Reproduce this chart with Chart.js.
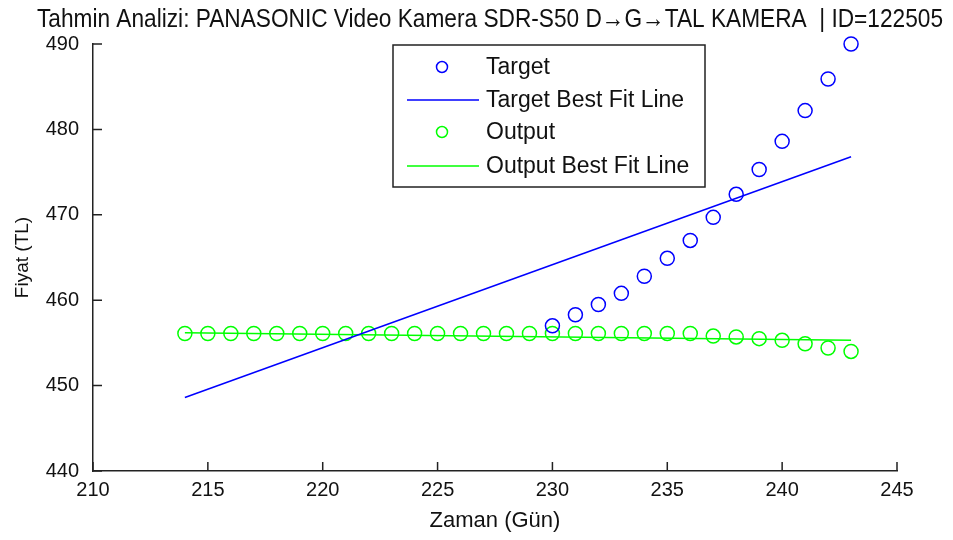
<!DOCTYPE html>
<html>
<head>
<meta charset="utf-8">
<script src="https://cdn.jsdelivr.net/npm/chart.js@4.4.1/dist/chart.umd.min.js"></script>
<style>
    html, body { margin: 0; padding: 0; background: #fff; }
</style>
</head>
<body>
<canvas id="tahminGrafik" width="953" height="540"></canvas>
<script>
// Gercek degerler (Target)
const targetDays = [230, 231, 232, 233, 234, 235, 236, 237, 238, 239, 240, 241, 242, 243];
const targetPrices = [457.0, 458.3, 459.5, 460.8, 462.8, 464.9, 467.0, 469.7, 472.4, 475.3, 478.6, 482.2, 485.9, 490.0];

// Model ciktisi (Output)
const outputDays = [214, 215, 216, 217, 218, 219, 220, 221, 222, 223, 224, 225, 226, 227, 228, 229,
    230, 231, 232, 233, 234, 235, 236, 237, 238, 239, 240, 241, 242, 243];
const outputPrices = [456.1, 456.1, 456.1, 456.1, 456.1, 456.1, 456.1, 456.1, 456.1, 456.1, 456.1, 456.1, 456.1, 456.1, 456.1, 456.1,
    456.1, 456.1, 456.1, 456.1, 456.1, 456.1, 456.1, 455.8, 455.7, 455.5, 455.3, 454.9, 454.4, 454.0];

// Egilim cizgileri (uc noktalar)
const fitDays = [214, 243];
const targetFit = [448.6, 476.8];
const outputFit = [456.2, 455.3];

// Eksen tikleri
const xTicks = [210, 215, 220, 225, 230, 235, 240, 245];
const yTicks = [440, 450, 460, 470, 480, 490];

const baslik = 'Tahmin Analizi: PANASONIC Video Kamera SDR-S50 D\u2192G\u2192TAL KAMERA  | ID=122505';

const FONT = "'Liberation Sans', Arial, sans-serif";
const NARROW = "'Liberation Sans Narrow', 'Arial Narrow', sans-serif";
const BLUE = '#0000ff';
const GREEN = '#00ff00';

const toPoints = (xs, ys) => xs.map((x, i) => ({ x: x, y: ys[i] }));

// Baslik (MATLAB gibi dar yazi, sag kenara hizali)
const baslikYaz = {
    id: 'baslikYaz',
    afterDraw(chart) {
        const { ctx } = chart;
        ctx.save();
        ctx.fillStyle = '#111';
        ctx.font = '26px ' + FONT;
        ctx.textAlign = 'right';
        ctx.textBaseline = 'alphabetic';
        ctx.fillText(baslik, 943, 27, 906);
        ctx.restore();
    }
};

// Ice dogru tik cizgileri
const icTikler = {
    id: 'icTikler',
    afterDraw(chart) {
        const { ctx, chartArea, scales } = chart;
        ctx.save();
        ctx.strokeStyle = '#222';
        ctx.lineWidth = 1.5;
        ctx.beginPath();
        xTicks.forEach(v => {
            const px = scales.x.getPixelForValue(v);
            ctx.moveTo(px, chartArea.bottom);
            ctx.lineTo(px, chartArea.bottom - 9);
        });
        yTicks.forEach(v => {
            const py = scales.y.getPixelForValue(v);
            ctx.moveTo(chartArea.left, py);
            ctx.lineTo(chartArea.left + 9, py);
        });
        ctx.stroke();
        ctx.restore();
    }
};

// MATLAB tarzi lejant kutusu
const lejant = {
    id: 'lejant',
    afterDraw(chart) {
        const { ctx } = chart;
        const box = { left: 393, top: 45, right: 705, bottom: 187 };
        const rows = [67, 100, 132, 166];
        ctx.save();
        ctx.fillStyle = '#fff';
        ctx.fillRect(box.left, box.top, box.right - box.left, box.bottom - box.top);
        ctx.strokeStyle = '#222';
        ctx.lineWidth = 1.5;
        ctx.strokeRect(box.left, box.top, box.right - box.left, box.bottom - box.top);

        chart.data.datasets.forEach((ds, i) => {
            const y = rows[i];
            ctx.strokeStyle = ds.borderColor;
            ctx.lineWidth = 1.5;
            if (ds.showLine) {
                ctx.beginPath();
                ctx.moveTo(407, y);
                ctx.lineTo(479, y);
                ctx.stroke();
            } else {
                ctx.beginPath();
                ctx.arc(442, y, 5.5, 0, Math.PI * 2);
                ctx.stroke();
            }
            ctx.fillStyle = '#111';
            ctx.font = '23px ' + FONT;
            ctx.textBaseline = 'middle';
            ctx.textAlign = 'left';
            ctx.fillText(ds.label, 486, y + 1);
        });
        ctx.restore();
    }
};

const ctx = document.getElementById('tahminGrafik').getContext('2d');

new Chart(ctx, {
    type: 'scatter',
    data: {
        datasets: [
            {
                label: 'Target',
                data: toPoints(targetDays, targetPrices),
                borderColor: BLUE,
                backgroundColor: 'rgba(0,0,0,0)',
                pointRadius: 7,
                pointBorderWidth: 1.5,
                showLine: false,
                clip: false
            },
            {
                label: 'Target Best Fit Line',
                data: toPoints(fitDays, targetFit),
                borderColor: BLUE,
                borderWidth: 1.5,
                pointRadius: 0,
                showLine: true,
                clip: false
            },
            {
                label: 'Output',
                data: toPoints(outputDays, outputPrices),
                borderColor: GREEN,
                backgroundColor: 'rgba(0,0,0,0)',
                pointRadius: 7,
                pointBorderWidth: 1.5,
                showLine: false,
                clip: false
            },
            {
                label: 'Output Best Fit Line',
                data: toPoints(fitDays, outputFit),
                borderColor: GREEN,
                borderWidth: 1.5,
                pointRadius: 0,
                showLine: true,
                clip: false
            }
        ]
    },
    options: {
        responsive: false,
        animation: false,
        devicePixelRatio: 1,
        layout: {
            padding: { left: 0, right: 56, top: 44, bottom: 0 }
        },
        plugins: {
            legend: { display: false },
            tooltip: { enabled: false },
            title: { display: false }
        },
        scales: {
            x: {
                type: 'linear',
                min: 210,
                max: 245,
                afterFit: scale => { scale.height = 69; },
                afterBuildTicks: scale => { scale.ticks = xTicks.map(v => ({ value: v })); },
                grid: { display: false, drawTicks: false },
                border: { display: true, color: '#222', width: 1.5 },
                ticks: {
                    color: '#111',
                    padding: 7,
                    maxRotation: 0,
                    font: { family: FONT, size: 20 }
                },
                title: {
                    display: true,
                    text: 'Zaman (Gün)',
                    color: '#111',
                    font: { family: FONT, size: 22 },
                    padding: { top: 0, bottom: 6 }
                }
            },
            y: {
                type: 'linear',
                min: 440,
                max: 490,
                afterFit: scale => { scale.width = 93; },
                afterBuildTicks: scale => { scale.ticks = yTicks.map(v => ({ value: v })); },
                grid: { display: false, drawTicks: false },
                border: { display: true, color: '#222', width: 1.5 },
                ticks: {
                    color: '#111',
                    padding: 14,
                    font: { family: FONT, size: 20 }
                },
                title: {
                    display: true,
                    text: 'Fiyat (TL)',
                    color: '#111',
                    font: { family: NARROW, size: 19 },
                    padding: { top: 11, bottom: 0 }
                }
            }
        }
    },
    plugins: [icTikler, lejant, baslikYaz]
});
</script>
</body>
</html>
